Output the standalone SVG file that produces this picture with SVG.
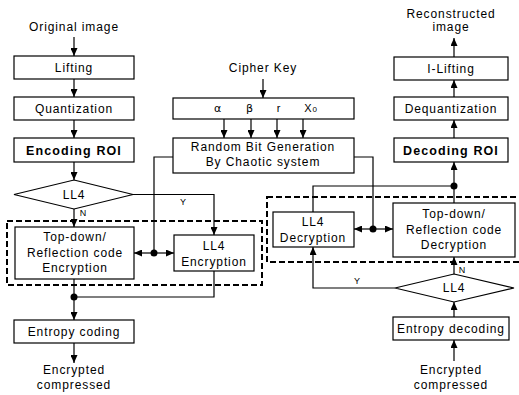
<svg xmlns="http://www.w3.org/2000/svg" width="519" height="395" viewBox="0 0 519 395">
<defs>
<marker id="ah" markerUnits="userSpaceOnUse" markerWidth="8" markerHeight="7" refX="8" refY="3.5" orient="auto"><path d="M0,0 L8,3.5 L0,7 z" fill="#000"/></marker>
<style>
text{font-family:"Liberation Sans",Arial,sans-serif;font-size:12px;letter-spacing:0.9px;fill:#000;text-anchor:middle}
.b{font-weight:bold;letter-spacing:1.1px;font-size:12.5px}
.s{font-size:9px;letter-spacing:0}
.box{fill:#fff;stroke:#000;stroke-width:1.2}
.dash{fill:none;stroke:#000;stroke-width:2;stroke-dasharray:6,3}
.c{fill:none;stroke:#000;stroke-width:1.2}
.a{marker-end:url(#ah)}
.dot{fill:#000}
</style>
</defs>
<rect width="519" height="395" fill="#fff"/>
<g id="groups">
<rect class="dash" x="7" y="221" width="255" height="64"/>
<rect class="dash" x="267" y="197" width="260" height="65"/>
</g>
<g id="connectors">
<line class="c a" x1="74" y1="37" x2="74" y2="56"/>
<line class="c a" x1="74" y1="79" x2="74" y2="97"/>
<line class="c a" x1="74" y1="120" x2="74" y2="138"/>
<line class="c a" x1="74" y1="162" x2="74" y2="180"/>
<line class="c a" x1="74" y1="209" x2="74" y2="227"/>
<polyline class="c a" points="133,194.5 214,194.5 214,235"/>
<polyline class="c" points="173,157 154,157 154,253"/>
<line class="c a" x1="154" y1="253" x2="134" y2="253"/>
<line class="c a" x1="154" y1="253" x2="174" y2="253"/>
<circle class="dot" cx="154" cy="253" r="3.5"/>
<line class="c" x1="74" y1="279" x2="74" y2="297"/>
<polyline class="c" points="214,271 214,297 74,297"/>
<circle class="dot" cx="74" cy="297" r="3.5"/>
<line class="c a" x1="74" y1="297" x2="74" y2="320"/>
<line class="c a" x1="74" y1="343" x2="74" y2="363"/>
<line class="c a" x1="263" y1="79" x2="263" y2="98"/>
<line class="c a" x1="224" y1="119" x2="224" y2="138"/>
<line class="c a" x1="251" y1="119" x2="251" y2="138"/>
<line class="c a" x1="277" y1="119" x2="277" y2="138"/>
<line class="c a" x1="303" y1="119" x2="303" y2="138"/>
<polyline class="c" points="354,157 373,157 373,229"/>
<line class="c a" x1="373" y1="229" x2="354" y2="229"/>
<line class="c a" x1="373" y1="229" x2="393" y2="229"/>
<circle class="dot" cx="373" cy="229" r="3.5"/>
<polyline class="c" points="313,212 313,186 454,186"/>
<line class="c" x1="454" y1="203" x2="454" y2="186"/>
<circle class="dot" cx="454" cy="186" r="3.5"/>
<line class="c a" x1="454" y1="186" x2="454" y2="162"/>
<line class="c a" x1="454" y1="138" x2="454" y2="120"/>
<line class="c a" x1="454" y1="97" x2="454" y2="80"/>
<line class="c a" x1="454" y1="57" x2="454" y2="38"/>
<line class="c a" x1="454" y1="274" x2="454" y2="257"/>
<polyline class="c a" points="395,288 313,288 313,247"/>
<line class="c a" x1="454" y1="317" x2="454" y2="302"/>
<line class="c a" x1="454" y1="361" x2="454" y2="340"/>
<text class="s" x="83" y="216">N</text>
<text class="s" x="183" y="205">Y</text>
<text class="s" x="462" y="273">N</text>
<text class="s" x="357" y="284">Y</text>
</g>
<g id="orig"><text x="74" y="31">Original image</text></g>
<g id="lifting"><rect class="box" x="14" y="56" width="120" height="23"/><text x="74" y="72">Lifting</text></g>
<g id="quant"><rect class="box" x="14" y="97" width="120" height="23"/><text x="74" y="113">Quantization</text></g>
<g id="encroi"><rect class="box" x="14" y="138" width="120" height="24"/><text class="b" x="74" y="155">Encoding ROI</text></g>
<g id="ll4a"><polygon class="box" points="74,180 133,194.5 74,209 14,194.5"/><text x="74" y="199">LL4</text></g>
<g id="tdenc"><rect class="box" x="15" y="227" width="119" height="52"/><text x="75" y="241">Top-down/</text><text x="75" y="257">Reflection code</text><text x="75" y="272">Encryption</text></g>
<g id="ll4enc"><rect class="box" x="174" y="235" width="80" height="36"/><text x="214" y="250">LL4</text><text x="214" y="266">Encryption</text></g>
<g id="entenc"><rect class="box" x="14" y="320" width="120" height="23"/><text x="74" y="336">Entropy coding</text></g>
<g id="outenc"><text x="74" y="374">Encrypted</text><text x="74" y="389">compressed</text><text x="74" y="404">image</text></g>
<g id="cipher"><text x="263" y="72">Cipher Key</text></g>
<g id="params"><rect class="box" x="173" y="98" width="181" height="21"/><text x="218" y="112" style="font-family:'DejaVu Sans',sans-serif;font-size:11px">α</text><text x="250" y="112" style="font-family:'DejaVu Sans',sans-serif;font-size:11px">β</text><text x="279" y="112" style="font-size:11px">r</text><text x="311" y="112" style="font-size:11px">X<tspan font-size="8">0</tspan></text></g>
<g id="rbg"><rect class="box" x="173" y="138" width="181" height="35"/><text x="263" y="151">Random Bit Generation</text><text x="263" y="166">By Chaotic system</text></g>
<g id="recon"><text x="451" y="18">Reconstructed</text><text x="451" y="31">image</text></g>
<g id="ilift"><rect class="box" x="394" y="57" width="114" height="23"/><text x="451" y="73">I-Lifting</text></g>
<g id="dequant"><rect class="box" x="394" y="97" width="114" height="23"/><text x="451" y="113">Dequantization</text></g>
<g id="decroi"><rect class="box" x="394" y="138" width="114" height="24"/><text class="b" x="451" y="155">Decoding ROI</text></g>
<g id="tddec"><rect class="box" x="393" y="203" width="122" height="54"/><text x="454" y="218">Top-down/</text><text x="454" y="234">Reflection code</text><text x="454" y="249">Decryption</text></g>
<g id="ll4dec"><rect class="box" x="273" y="212" width="81" height="35"/><text x="313" y="226">LL4</text><text x="313" y="242">Decryption</text></g>
<g id="ll4b"><polygon class="box" points="454,274 514,288 454,302 395,288"/><text x="454" y="292">LL4</text></g>
<g id="entdec"><rect class="box" x="393" y="317" width="116" height="23"/><text x="451" y="333">Entropy decoding</text></g>
<g id="indec"><text x="451" y="374">Encrypted</text><text x="451" y="389">compressed</text><text x="451" y="404">image</text></g>
</svg>
